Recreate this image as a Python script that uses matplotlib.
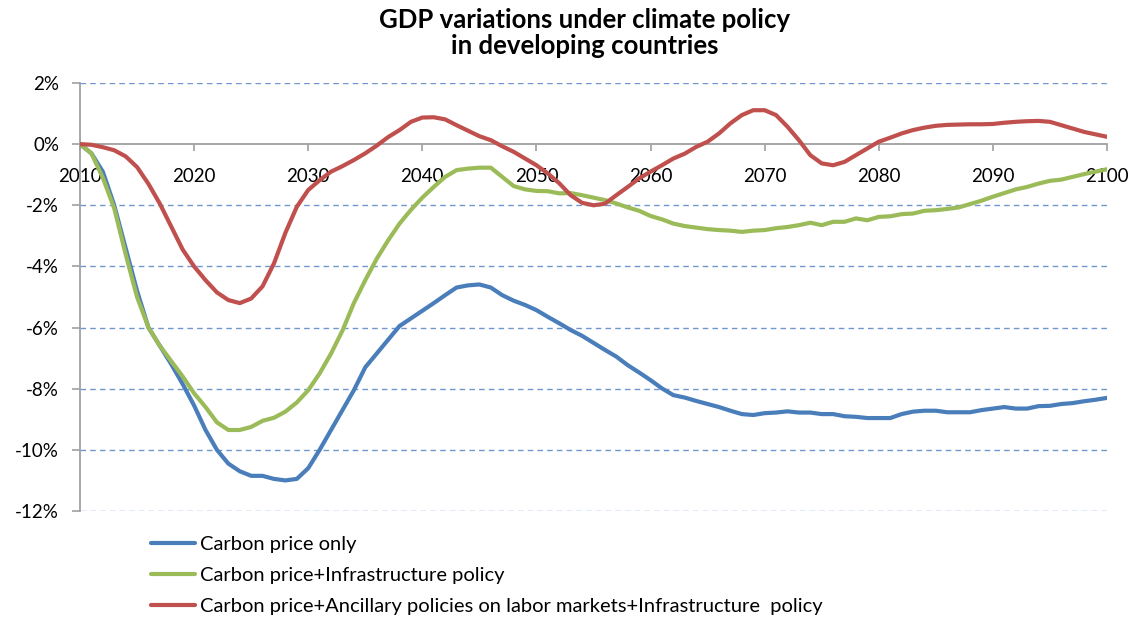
import numpy as np
import matplotlib.pyplot as plt
from matplotlib.ticker import FuncFormatter

# GDP variation (%) per year, 2010-2100
years = list(range(2010, 2101))

carbon_only = [
    0.0, -0.3, -0.9, -2.0, -3.4, -4.8, -6.0, -6.6, -7.2, -7.85,
    -8.55, -9.35, -10.0, -10.45, -10.7, -10.85, -10.85, -10.95, -11.0, -10.95,
    -10.6, -10.0, -9.35, -8.7, -8.05, -7.3, -6.85, -6.4, -5.95, -5.7,
    -5.45, -5.2, -4.94, -4.69, -4.62, -4.59, -4.69, -4.94, -5.12, -5.26,
    -5.43, -5.65, -5.86, -6.08, -6.27, -6.5, -6.73, -6.95, -7.23, -7.47,
    -7.72, -7.99, -8.21, -8.29, -8.4, -8.5, -8.6, -8.72, -8.83, -8.86,
    -8.8, -8.78, -8.74, -8.78, -8.78, -8.83, -8.83, -8.9, -8.92, -8.96,
    -8.96, -8.96, -8.83, -8.75, -8.72, -8.72, -8.77, -8.77, -8.77, -8.7,
    -8.65, -8.6, -8.65, -8.65, -8.57, -8.56, -8.5, -8.47, -8.41, -8.36,
    -8.3,
]

carbon_infra = [
    0.0, -0.3, -1.1, -2.1, -3.6, -5.0, -6.0, -6.6, -7.1, -7.6,
    -8.15, -8.6, -9.1, -9.35, -9.35, -9.25, -9.05, -8.95, -8.75, -8.45,
    -8.05, -7.5, -6.85, -6.1, -5.2, -4.45, -3.75, -3.15, -2.6, -2.15,
    -1.75, -1.4, -1.07, -0.85, -0.8, -0.77, -0.77, -1.07, -1.37, -1.48,
    -1.53, -1.54, -1.61, -1.6, -1.67, -1.75, -1.83, -1.94, -2.07, -2.18,
    -2.35, -2.46, -2.6, -2.68, -2.73, -2.78, -2.81, -2.83, -2.87, -2.83,
    -2.81, -2.75, -2.71, -2.65, -2.57, -2.65, -2.54, -2.54, -2.43, -2.49,
    -2.38, -2.36, -2.29, -2.27, -2.18, -2.16, -2.12, -2.07, -1.96, -1.85,
    -1.72, -1.6, -1.48, -1.4, -1.29, -1.2, -1.16, -1.07, -0.98, -0.9,
    -0.82,
]

carbon_ancillary = [
    0.0, -0.02, -0.1, -0.2, -0.4, -0.75, -1.3, -1.95, -2.7, -3.45,
    -4.0, -4.45, -4.85, -5.1, -5.2, -5.05, -4.65, -3.9, -2.9, -2.05,
    -1.5, -1.18, -0.9, -0.72, -0.52, -0.3, -0.05, 0.23, 0.46, 0.73,
    0.87, 0.88, 0.81, 0.62, 0.44, 0.26, 0.13, -0.07, -0.25, -0.47,
    -0.69, -0.96, -1.28, -1.67, -1.92, -2.0, -1.95, -1.67, -1.4, -1.12,
    -0.9, -0.69, -0.47, -0.31, -0.09, 0.08, 0.35, 0.68, 0.95, 1.11,
    1.11, 0.95, 0.57, 0.13, -0.36, -0.63, -0.69, -0.58, -0.36, -0.14,
    0.08, 0.21, 0.35, 0.46, 0.54, 0.6, 0.63, 0.64, 0.65, 0.65,
    0.66, 0.7, 0.73, 0.75, 0.76, 0.73, 0.62, 0.51, 0.4, 0.32,
    0.24,
]

series_labels = [
    'Carbon price only',
    'Carbon price+Infrastructure policy',
    'Carbon price+Ancillary policies on labor markets+Infrastructure  policy',
]
series_colors = ['#4a7ebb', '#9bbb59', '#c0504d']

plt.rcParams['font.family'] = ['Lato', 'DejaVu Sans']

fig = plt.figure(figsize=(11.47, 6.26), dpi=100)
ax = fig.add_axes([80 / 1147, 1 - 511 / 626, (1107 - 80) / 1147, (511 - 83) / 626])

for vals, lab, col in zip([carbon_only, carbon_infra, carbon_ancillary],
                          series_labels, series_colors):
    ax.plot(years, vals, color=col, linewidth=3.0, label=lab,
            solid_capstyle='round', solid_joinstyle='round', zorder=3)

ax.set_xlim(2010, 2100)
ax.set_ylim(-12, 2)
ax.set_yticks(np.arange(-12, 3, 2))
ax.yaxis.set_major_formatter(FuncFormatter(lambda v, p: f'{int(v)}%'))
ax.set_xticks(range(2010, 2101, 10))

# dashed gridlines (the 0 line is the x axis itself)
for y in range(-12, 3, 2):
    if y != 0:
        ax.axhline(y, color='#6f96cf', linestyle=(0, (4, 3)), linewidth=1.0, zorder=1)

ax.spines['top'].set_visible(False)
ax.spines['right'].set_visible(False)
ax.spines['bottom'].set_position(('data', 0))
ax.spines['bottom'].set_color('#a0a0a0')
ax.spines['left'].set_color('#a0a0a0')
ax.spines['bottom'].set_linewidth(1.3)
ax.spines['left'].set_linewidth(1.3)
ax.spines['bottom'].set_zorder(2)

ax.tick_params(axis='x', direction='out', length=5, width=1.2, color='#a0a0a0',
               pad=12, labelsize=13.5)
ax.tick_params(axis='y', direction='out', length=6, width=1.2, color='#a0a0a0',
               pad=9, labelsize=13.5)

fig.text(585 / 1147, 1 - 8 / 626,
         'GDP variations under climate policy\nin developing countries',
         ha='center', va='top', fontsize=18.5, fontweight='bold', linespacing=1.1)

fig.legend(loc='upper left', bbox_to_anchor=(143 / 1147, 1 - 528 / 626),
           frameon=False, fontsize=14.5, handlelength=2.2, handletextpad=0.25,
           labelspacing=0.68, borderaxespad=0)

fig.savefig('out.png', dpi=100)
